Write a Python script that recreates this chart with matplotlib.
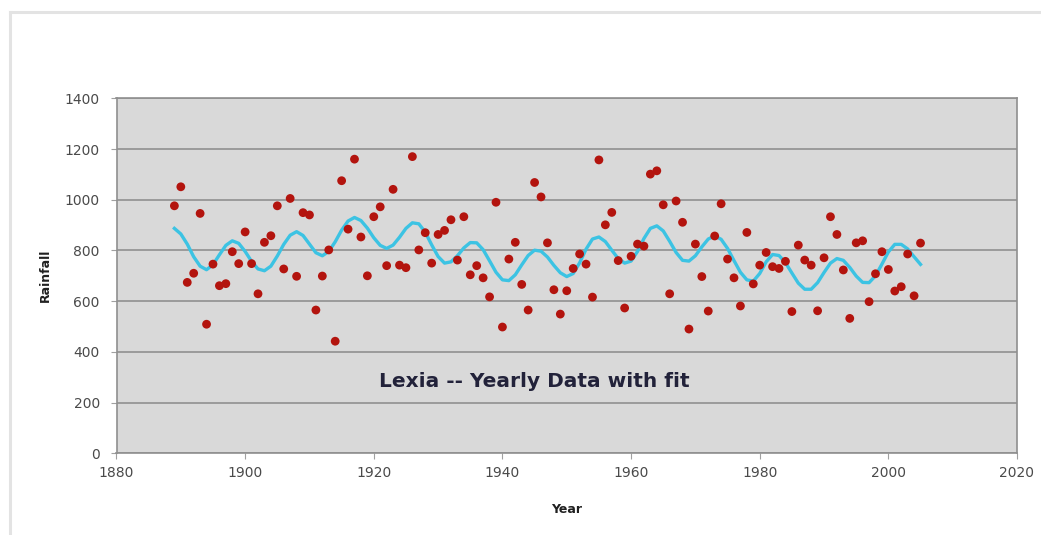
import numpy as np
import matplotlib
matplotlib.use("Agg")
import matplotlib.pyplot as plt
from matplotlib.lines import Line2D

# yearly rainfall
years = list(range(1889, 2006))
rainfall = [
    976, 1051, 674, 710, 946, 509, 746, 661, 669, 795,      # 1889-1898
    748, 873, 748, 629, 832, 858, 976, 727, 1005, 698,      # 1899-1908
    949, 940, 565, 699, 802, 442, 1075, 884, 1160, 853,     # 1909-1918
    700, 933, 972, 740, 1041, 742, 732, 1170, 802, 870,     # 1919-1928
    750, 863, 879, 921, 762, 933, 704, 740, 692, 617,       # 1929-1938
    990, 498, 766, 832, 666, 565, 1068, 1011, 830, 645,     # 1939-1948
    549, 641, 729, 786, 746, 616, 1157, 901, 950, 760,      # 1949-1958
    573, 777, 825, 817, 1101, 1114, 980, 629, 995, 911,     # 1959-1968
    490, 825, 697, 561, 857, 984, 766, 692, 581, 871,       # 1969-1978
    668, 742, 792, 736, 729, 757, 559, 821, 762, 742,       # 1979-1988
    562, 771, 933, 863, 723, 532, 830, 838, 598, 708,       # 1989-1998
    795, 725, 640, 657, 786, 621, 829,                      # 1999-2005
]

# fitted curve, one value per year
fit = [
    887, 865, 825, 775, 738, 724, 744, 783, 820, 838,       # 1889-1898
    828, 796, 757, 727, 720, 738, 778, 824, 860, 874,       # 1899-1908
    859, 825, 791, 779, 796, 834, 880, 916, 930, 918,       # 1909-1918
    888, 850, 820, 808, 821, 852, 887, 909, 905, 872,       # 1919-1928
    822, 776, 750, 755, 779, 810, 831, 830, 803, 759,       # 1929-1938
    714, 684, 681, 704, 743, 780, 801, 797, 774, 741,       # 1939-1948
    712, 697, 709, 751, 805, 845, 853, 835, 801, 768,       # 1949-1958
    750, 758, 796, 847, 887, 897, 877, 836, 792, 761,       # 1959-1968
    758, 779, 814, 845, 857, 844, 808, 760, 714, 684,       # 1969-1978
    679, 709, 755, 784, 780, 752, 711, 671, 647, 647,       # 1979-1988
    673, 713, 750, 768, 761, 733, 699, 674, 673, 700,       # 1989-1998
    746, 794, 824, 824, 806, 775, 745,                      # 1999-2005
]

xticks = [1880, 1900, 1920, 1940, 1960, 1980, 2000, 2020]
yticks = [0, 200, 400, 600, 800, 1000, 1200, 1400]

W, H = 1041, 535
fig = plt.figure(figsize=(W / 100, H / 100), dpi=100)
fig.patch.set_facecolor("white")

# light chart-area frame (left and top edges visible)
fig.add_artist(Line2D([10 / W, 10 / W], [0, 1 - 12 / H], transform=fig.transFigure,
                      color="#e3e3e3", lw=2.2))
fig.add_artist(Line2D([10 / W, 1], [1 - 12 / H, 1 - 12 / H], transform=fig.transFigure,
                      color="#e3e3e3", lw=2.2))

ax = fig.add_axes([116.5 / W, 1 - 453.3 / H, (1017 - 116.5) / W, (453.3 - 98.3) / H])
ax.set_facecolor("#d9d9d9")

ax.plot(years, fit, color="#3cc3e3", lw=2.4, zorder=3)
ax.scatter(years, rainfall, s=40, color="#b3140e", edgecolors="none", zorder=4)

ax.set_xlim(1880, 2020)
ax.set_ylim(0, 1400)
ax.set_xticks(xticks)
ax.set_yticks(yticks)
ax.set_axisbelow(True)
ax.yaxis.grid(True, color="#8a8a8a", lw=1.1)
ax.xaxis.grid(False)

for s in ax.spines.values():
    s.set_color("#8f8f8f")
    s.set_linewidth(1.2)

ax.tick_params(axis="both", colors="#a0a0a0", labelcolor="#4a4a4a",
               labelsize=10, length=4, width=0.8)
ax.tick_params(axis="y", pad=8)
ax.tick_params(axis="x", pad=5)

ax.set_xlabel("Year", fontsize=9, fontweight="bold", color="#202020", labelpad=17)
ax.set_ylabel("Rainfall", fontsize=9, fontweight="bold", color="#202020", labelpad=9)

ax.text(1945, 285, "Lexia -- Yearly Data with fit", ha="center", va="center",
        fontsize=14.5, fontweight="bold", color="#22223a")

fig.savefig("out.png", dpi=100)
